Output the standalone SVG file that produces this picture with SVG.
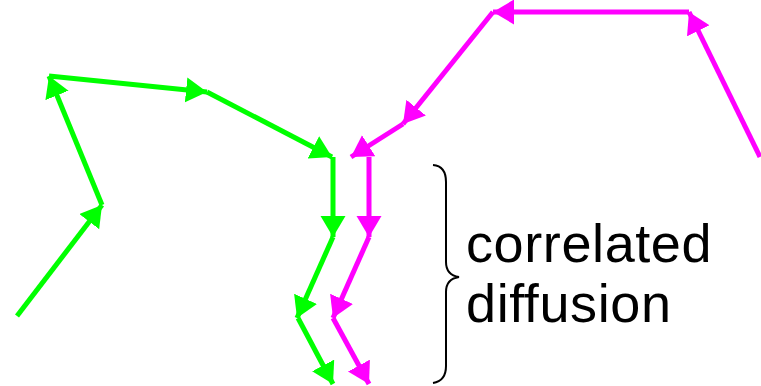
<svg xmlns="http://www.w3.org/2000/svg" width="761" height="386" viewBox="0 0 761 386">
  <style>
    .step { fill: none; stroke-width: 5; stroke-linecap: butt; }
    .green { stroke: #00ff00; marker-end: url(#headGreen); }
    .magenta { stroke: #ff00ff; marker-end: url(#headMagenta); }
    .brace { fill: none; stroke: #000; stroke-width: 2; }
    .label { font-family: "Liberation Sans", Arial, Helvetica, sans-serif; font-size: 54px; letter-spacing: 0.6px; fill: #000; }
  </style>
  <defs>
    <marker id="headGreen" markerUnits="userSpaceOnUse" markerWidth="24" markerHeight="26" refX="21" refY="12.5" orient="auto">
      <path d="M0,0 L21,12.5 L0,25 Z" fill="#00ff00"/>
    </marker>
    <marker id="headMagenta" markerUnits="userSpaceOnUse" markerWidth="24" markerHeight="26" refX="21" refY="12.5" orient="auto">
      <path d="M0,0 L21,12.5 L0,25 Z" fill="#ff00ff"/>
    </marker>
  </defs>

  <rect width="761" height="386" fill="#fff"/>

  <!-- green random walk -->
  <g id="walk-green" class="connectors">
    <line class="step green" x1="17" y1="316" x2="102" y2="205"/>
    <line class="step green" x1="102" y1="205" x2="49" y2="76"/>
    <line class="step green" x1="49" y1="76" x2="207" y2="92"/>
    <line class="step green" x1="207" y1="92" x2="332" y2="157"/>
    <line class="step green" x1="333" y1="157" x2="333" y2="237"/>
    <line class="step green" x1="333" y1="237" x2="297" y2="318"/>
    <line class="step green" x1="298" y1="318" x2="333" y2="384"/>
  </g>

  <!-- magenta random walk -->
  <g id="walk-magenta" class="connectors">
    <line class="step magenta" x1="760" y1="157" x2="689" y2="12"/>
    <line class="step magenta" x1="689" y1="12" x2="493" y2="12"/>
    <line class="step magenta" x1="493" y1="12" x2="403" y2="124"/>
    <line class="step magenta" x1="403" y1="124" x2="351" y2="157"/>
    <line class="step magenta" x1="369" y1="157" x2="369" y2="237"/>
    <line class="step magenta" x1="369" y1="237" x2="333" y2="318"/>
    <line class="step magenta" x1="333" y1="318" x2="369" y2="384"/>
  </g>

  <!-- curly brace -->
  <g id="brace">
    <path class="brace" d="M433,165 Q446,166 446,182 L446,262 Q446,275 459,277 Q446,279 446,292 L446,366 Q446,381 433,383"/>
  </g>

  <!-- label -->
  <g id="label">
    <text class="label" x="466" y="262">correlated</text>
    <text class="label" x="466" y="322">diffusion</text>
  </g>
</svg>
